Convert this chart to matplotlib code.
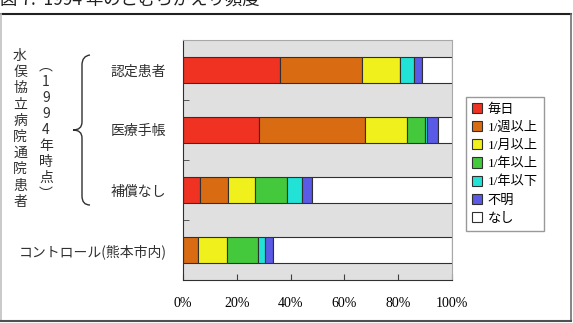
import matplotlib
matplotlib.use('Agg')
import matplotlib.pyplot as plt
from matplotlib.path import Path
from matplotlib.patches import PathPatch, Patch
from matplotlib.lines import Line2D
import numpy as np

plt.rcParams['font.family'] = ['Noto Sans CJK JP', 'DejaVu Sans']

# data (percent of respondents)
categories = ['認定患者', '医療手帳', '補償なし', 'コントロール(熊本市内)']
levels = ['毎日', '1/週以上', '1/月以上', '1/年以上', '1/年以下', '不明', 'なし']
daily = [36.1, 28.4, 6.3, 0.0]
weekly = [30.4, 39.1, 10.6, 5.7]
monthly = [14.0, 15.9, 9.9, 10.6]
yearly_more = [0.0, 6.7, 11.8, 11.5]
yearly_less = [5.5, 0.6, 5.8, 2.5]
unknown = [2.8, 4.0, 3.5, 3.0]
nothing = [11.2, 5.3, 52.1, 66.7]
colors = ['#f03222', '#d96c12', '#f0f01c', '#44c83c', '#22e2d6', '#5a5ae6', '#ffffff']

W, H = 573, 323
fig = plt.figure(figsize=(W / 100, H / 100), dpi=100)

def fx(x):
    return x / W

def fy(y):
    return 1 - y / H

ax = fig.add_axes([fx(183), fy(280), fx(452) - fx(183), fy(40) - fy(280)])
ax.set_facecolor('#e0e0e0')

series = [daily, weekly, monthly, yearly_more, yearly_less, unknown, nothing]
y = np.arange(len(categories))
left = np.zeros(len(categories))
for vals, col, lab in zip(series, colors, levels):
    ax.barh(y, vals, left=left, height=0.42, color=col, edgecolor='#303030',
            linewidth=0.8, label=lab)
    left += np.array(vals)

ax.set_xlim(0, 100)
ax.set_ylim(3.5, -0.5)
ax.set_xticks([0, 20, 40, 60, 80, 100])
ax.set_xticklabels(['0%', '20%', '40%', '60%', '80%', '100%'],
                   family=['Liberation Serif', 'Noto Sans CJK JP'], fontsize=10)
ax.set_yticks(y)
ax.set_yticklabels(categories, fontsize=10, color='#303030')
ax.set_yticks([-0.5, 0.5, 1.5, 2.5], minor=True)
ax.tick_params(axis='y', which='major', length=0, pad=12)
ax.tick_params(axis='y', which='minor', direction='in', length=4, color='#404040')
ax.tick_params(axis='x', direction='in', length=4, pad=12, color='#404040')
for s in ['top', 'right']:
    ax.spines[s].set_color('#a8a8a8')
for s in ['left', 'bottom']:
    ax.spines[s].set_color('#303030')

# legend
handles = [Patch(facecolor=c, edgecolor='#303030', linewidth=0.8) for c in colors]
leg = fig.legend(handles, levels, loc='upper left',
                 bbox_to_anchor=(fx(466), fy(97)), frameon=True, fancybox=False,
                 prop={'family': ['Liberation Serif', 'Noto Sans CJK JP'], 'size': 9.5},
                 handlelength=0.8, handleheight=0.8, handletextpad=0.4,
                 labelspacing=0.42, borderpad=0.45, borderaxespad=0)
leg.get_frame().set_edgecolor('#808080')
leg.get_frame().set_linewidth(1.0)

# vertical group labels
fig.text(fx(20), fy(49), '\n'.join('水俣協立病院通院患者'), ha='center', va='top',
         fontsize=10, linespacing=1.2, color='#303030')
fig.text(fx(46), fy(59), '\n'.join(['︵', '1', '9', '9', '4', '年', '時', '点', '︶']),
         ha='center', va='top', fontsize=10, linespacing=1.18, color='#303030',
         family=['Noto Sans CJK JP'])

# brace
verts = [(90, 55), (82, 56), (82, 65), (82, 122), (82, 130), (73, 130),
         (82, 130), (82, 138), (82, 196), (82, 205), (90, 205)]
codes = [Path.MOVETO, Path.CURVE3, Path.CURVE3, Path.LINETO, Path.CURVE3, Path.CURVE3,
         Path.CURVE3, Path.CURVE3, Path.LINETO, Path.CURVE3, Path.CURVE3]
brace = Path([(fx(a), fy(b)) for a, b in verts], codes)
fig.add_artist(PathPatch(brace, transform=fig.transFigure, facecolor='none',
                         edgecolor='#303030', linewidth=1.0))

# title cut at the top edge, as in the source figure
fig.text(fx(0), fy(5), '図 7.  1994 年のこむらがえり頻度', ha='left', va='baseline',
         fontsize=12.5, color='#202020')

# outer frame
fig.add_artist(Line2D([fx(0), fx(571)], [fy(14), fy(14)], color='#202020', lw=1.5))
fig.add_artist(Line2D([fx(570.5), fx(570.5)], [fy(14), fy(321)], color='#707070', lw=1.2))
fig.add_artist(Line2D([fx(1), fx(1)], [fy(14), fy(321)], color='#c0c0c0', lw=1.2))
fig.add_artist(Line2D([fx(0), fx(571)], [fy(321), fy(321)], color='#505050', lw=1.5))

fig.savefig('out.png', dpi=100)
